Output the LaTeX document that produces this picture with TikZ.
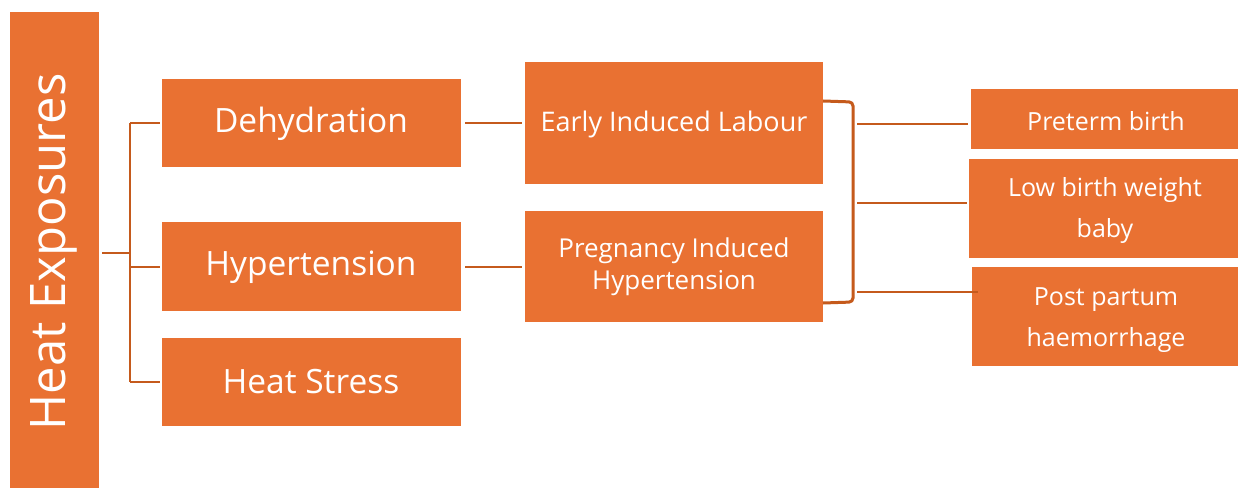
\documentclass[tikz,border=0pt]{standalone}
\usepackage{fontspec}
\setmainfont{Open Sans}
\definecolor{boxor}{HTML}{E97132}
\definecolor{lineor}{HTML}{C55A1C}
\begin{document}
\begin{tikzpicture}[x=1pt,y=-1pt,
  box/.style={fill=boxor,draw=none,text=white,align=center,inner sep=0pt},
  lbl/.style={text=white,align=center,inner sep=0pt},
  conn/.style={draw=lineor,line width=2.2pt},
  brace/.style={draw=lineor,line width=3pt,rounded corners=4pt}]
\useasboundingbox[fill=white] (0,0) rectangle (1238,489);
% main box
\node[box,minimum width=89pt,minimum height=476pt,anchor=north west] (heat) at (10,12) {};
\node[lbl,rotate=90,font=\fontsize{49}{58}\selectfont] (heatlbl) at (54,252) {Heat Exposures};
% second column
\node[box,minimum width=299pt,minimum height=88pt,anchor=north west] (dehy) at (162,79) {};
\node[lbl,font=\fontsize{33.5}{40}\selectfont] (dehylbl) at (311,124) {Dehydration};
\node[box,minimum width=299pt,minimum height=89pt,anchor=north west] (hyper) at (162,222) {};
\node[lbl,font=\fontsize{33.5}{40}\selectfont] (hyperlbl) at (311,267) {Hypertension};
\node[box,minimum width=299pt,minimum height=88pt,anchor=north west] (stress) at (162,338) {};
\node[lbl,font=\fontsize{33.5}{40}\selectfont] (stresslbl) at (311,382) {Heat Stress};
% third column
\node[box,minimum width=298pt,minimum height=122pt,anchor=north west] (early) at (525,62) {};
\node[lbl,font=\fontsize{27}{32}\selectfont] (earlylbl) at (674,124) {Early Induced Labour};
\node[box,minimum width=298pt,minimum height=111pt,anchor=north west] (preg) at (525,211) {};
\node[lbl,font=\fontsize{26}{32}\selectfont] (preglbl) at (674,267) {Pregnancy Induced\\Hypertension};
% fourth column
\node[box,minimum width=267pt,minimum height=60pt,anchor=north west] (pre) at (971,89) {};
\node[lbl,font=\fontsize{25}{41}\selectfont] (prelbl) at (1106,121) {Preterm birth};
\node[box,minimum width=269pt,minimum height=99pt,anchor=north west] (low) at (969,159) {};
\node[lbl,font=\fontsize{25}{41}\selectfont] (lowlbl) at (1105,211) {Low birth weight\\baby};
\node[box,minimum width=266pt,minimum height=99pt,anchor=north west] (post) at (972,267) {};
\node[lbl,font=\fontsize{25}{41}\selectfont] (postlbl) at (1106,320) {Post partum\\haemorrhage};
% connectors from heat box
\coordinate (hj) at (130,253);
\coordinate (htop) at (130,123);
\coordinate (hbot) at (130,382);
\draw[conn] ([xshift=3pt]heat.east |- hj) -- (hj);
\draw[conn] (htop) -- (hbot);
\draw[conn] (htop) -- ([xshift=-2pt]dehy.west |- htop);
\draw[conn] (130,267) -- ([xshift=-2pt]hyper.west |- 0,267);
\draw[conn] (hbot) -- ([xshift=-2pt]stress.west |- hbot);
% second to third
\draw[conn] ([xshift=4pt]dehy.east |- 0,123) -- ([xshift=-3pt]early.west |- 0,123);
\draw[conn] ([xshift=4pt]hyper.east |- 0,267) -- ([xshift=-3pt]preg.west |- 0,267);
% brace
\coordinate (bt) at (823,101);
\coordinate (bb) at (823,303);
\draw[brace] (bt) -- (853,102) -- (853,302) -- (bb);
% to outcomes
\draw[conn] (857,124) -- ([xshift=-3pt]pre.west |- 0,124);
\draw[conn] (857,203) -- ([xshift=-2pt]low.west |- 0,203);
\draw[conn] (857,292) -- ([xshift=6pt]post.west |- 0,292);
\end{tikzpicture}
\end{document}
